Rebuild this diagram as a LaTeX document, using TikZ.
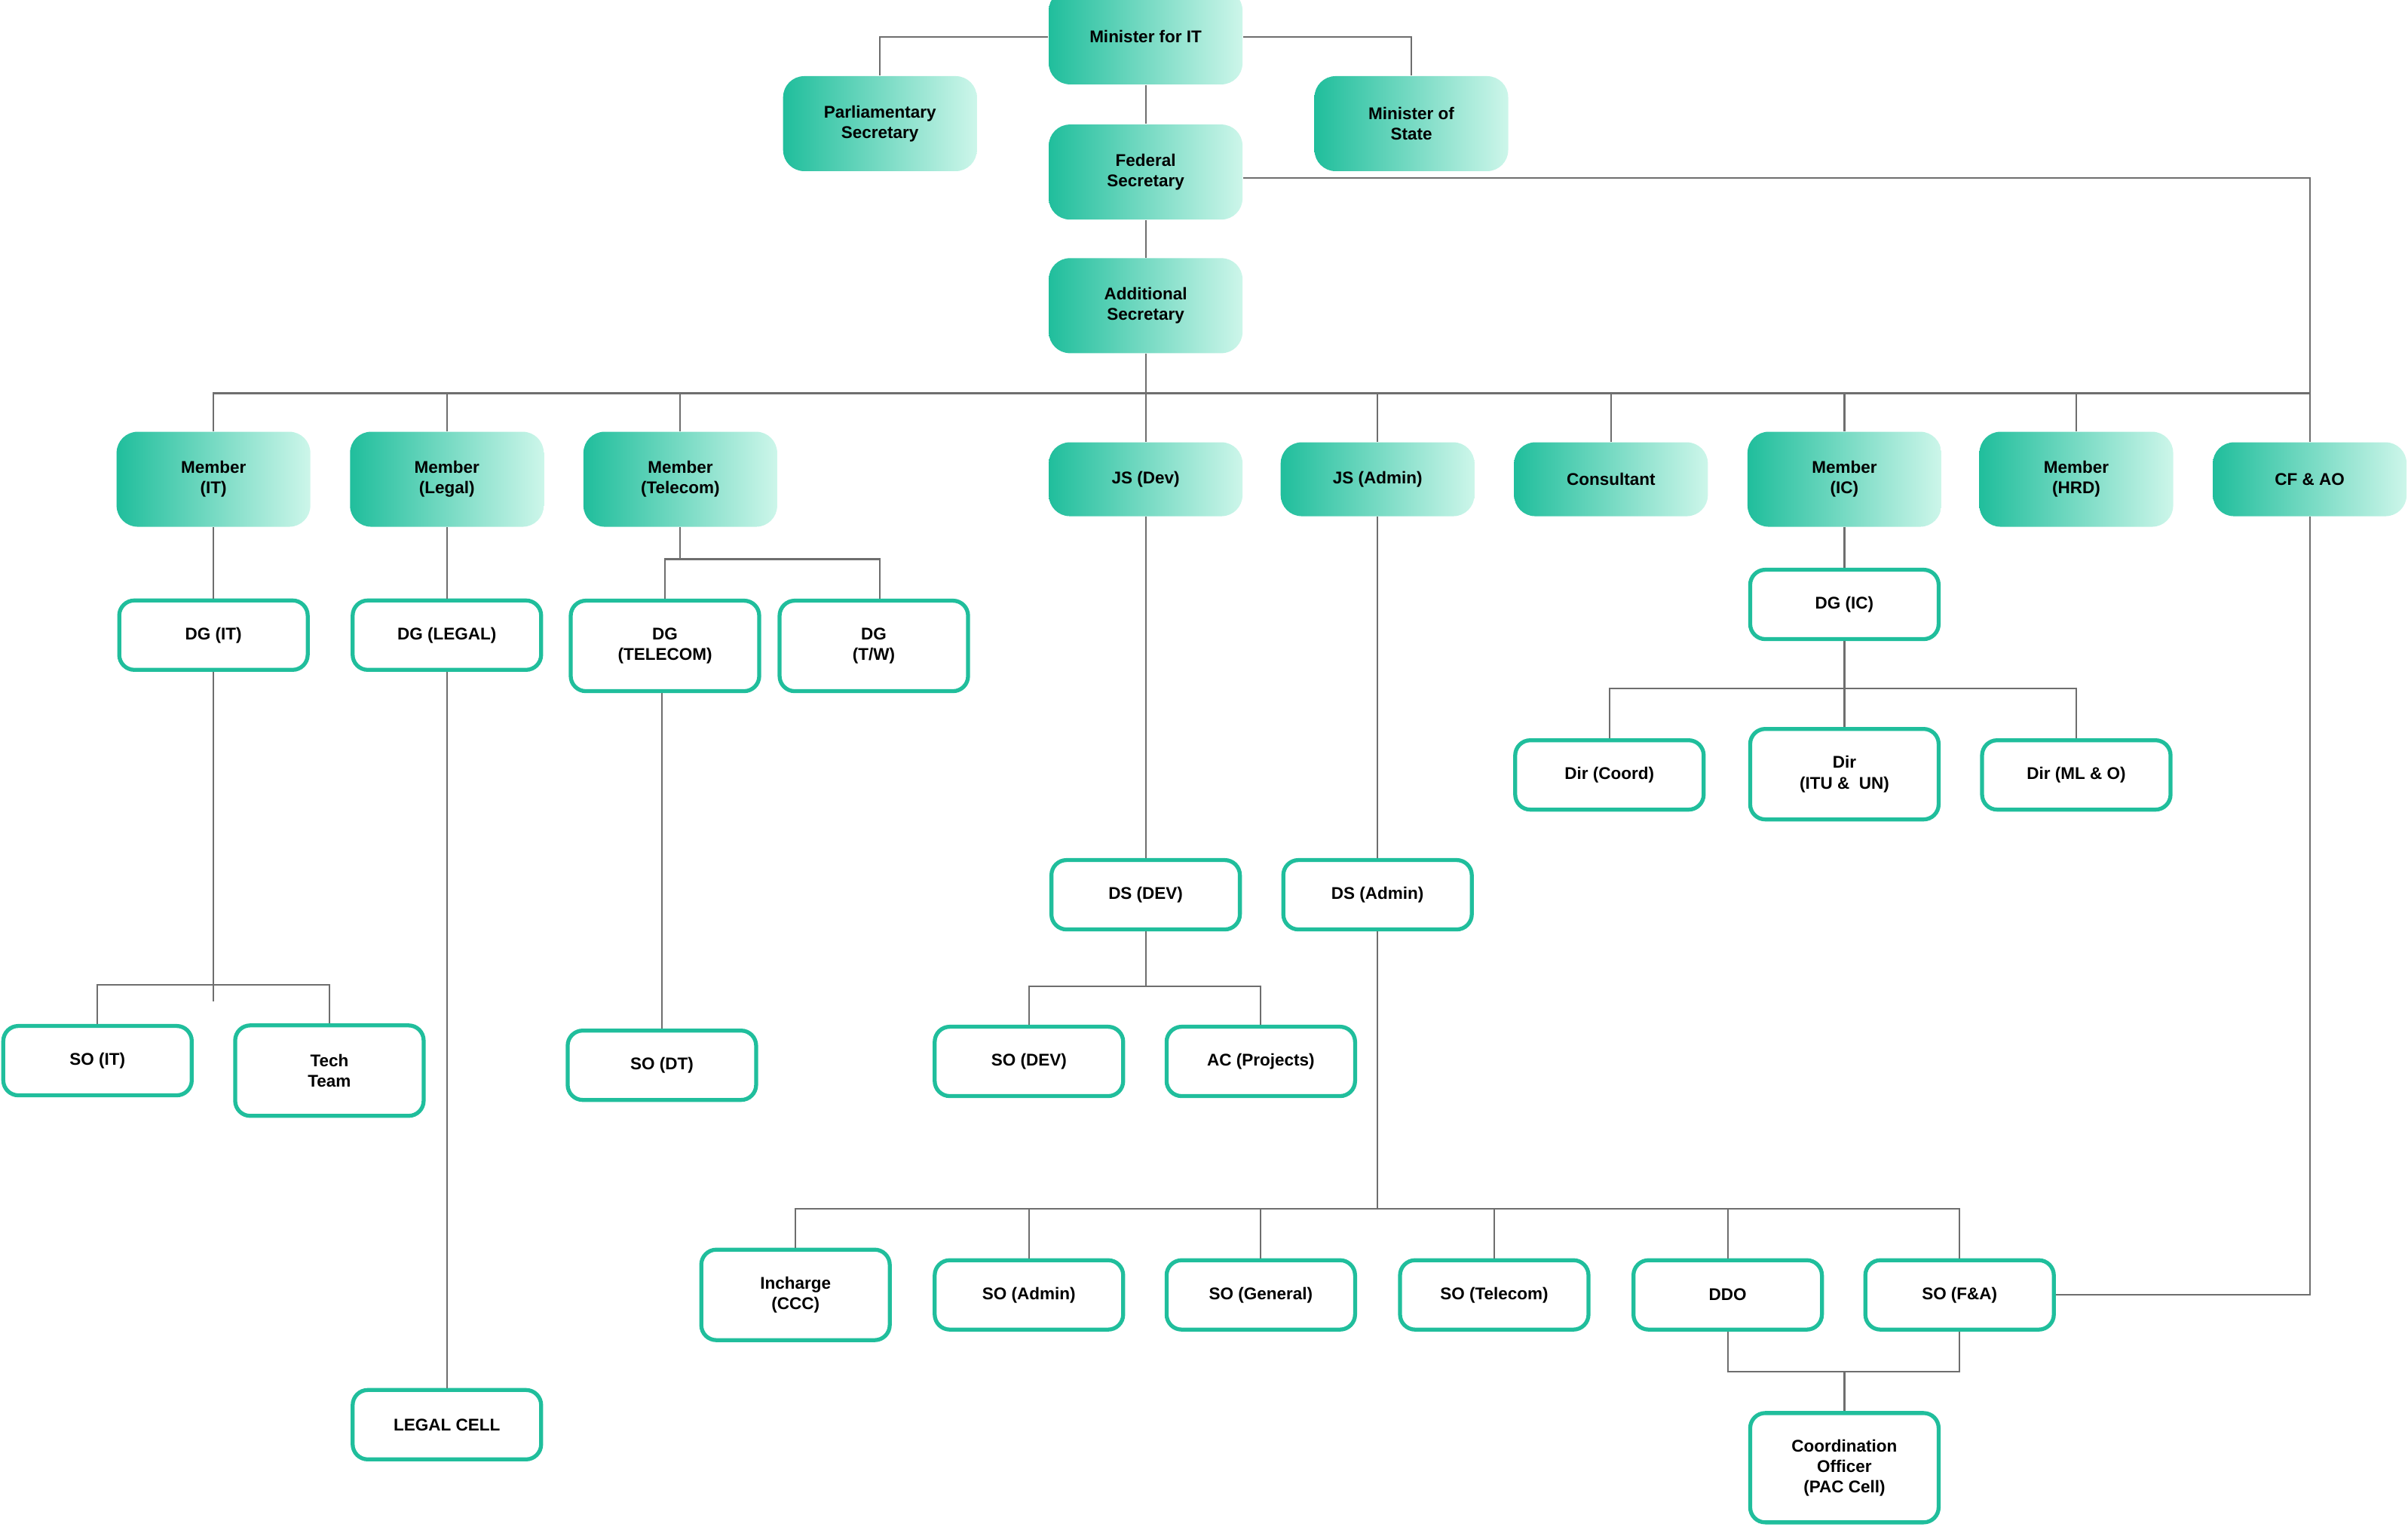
\documentclass[tikz,border=0pt]{standalone}
\usepackage{fontspec}
\setmainfont{Liberation Sans}
\usetikzlibrary{positioning}
\definecolor{tealdark}{HTML}{20BE9C}
\definecolor{teallight}{HTML}{CDF6EA}
\definecolor{linegray}{HTML}{6E6E6E}

\tikzset{
  boss/.style={rectangle,rounded corners=0.28cm,draw=none,left color=tealdark,right color=teallight,
    minimum width=2.57cm,minimum height=1.26cm,align=center,inner sep=1pt,
    font=\fontsize{6.4pt}{7.7pt}\selectfont\bfseries},
  bosslow/.style={boss,minimum height=0.98cm},
  post/.style={rectangle,rounded corners=0.2cm,draw=tealdark,line width=1.5pt,fill=white,
    minimum width=2.5cm,minimum height=0.92cm,align=center,inner sep=1pt,
    font=\fontsize{6.4pt}{7.7pt}\selectfont\bfseries},
  posthigh/.style={post,minimum height=1.2cm},
  link/.style={draw=linegray,line width=0.6pt}
}

\begin{document}
\begin{tikzpicture}[x=0.02037cm,y=-0.02037cm]
\useasboundingbox (0,0) rectangle (1568,994);

\coordinate (bus) at (746,256);
\coordinate (telbus) at (443,364);
\coordinate (icbus) at (1201,448);
\coordinate (itbus) at (139,641);
\coordinate (itend) at (139,652);
\coordinate (devbus) at (746,642);
\coordinate (admbus) at (897,787);
\coordinate (pacbus) at (1201,893);

\node[boss] (min) at (746,24) {Minister for IT};
\node[boss] (parl) at (573,80.5) {Parliamentary\\Secretary};
\node[boss] (mos) at (919,80.5) {Minister of\\State};
\node[boss] (fed) at (746,112) {Federal\\Secretary};
\node[boss] (add) at (746,199) {Additional\\Secretary};

\node[boss] (mit) at (139,312) {Member\\(IT)};
\node[boss] (mlegal) at (291,312) {Member\\(Legal)};
\node[boss] (mtel) at (443,312) {Member\\(Telecom)};
\node[bosslow] (jsdev) at (746,312) {JS (Dev)};
\node[bosslow] (jsadm) at (897,312) {JS (Admin)};
\node[bosslow] (cons) at (1049,312) {Consultant};
\node[boss] (mic) at (1201,312) {Member\\(IC)};
\node[boss] (mhrd) at (1352,312) {Member\\(HRD)};
\node[bosslow] (cfao) at (1504,312) {CF \& AO};

\node[post] (dgit) at (139,413.5) {DG (IT)};
\node[post] (dglegal) at (291,413.5) {DG (LEGAL)};
\node[posthigh] (dgtel) at (433,420.5) {DG\\(TELECOM)};
\node[posthigh] (dgtw) at (569,420.5) {DG\\(T/W)};
\node[post] (dgic) at (1201,393.5) {DG (IC)};
\node[post] (dircoord) at (1048,504.5) {Dir (Coord)};
\node[posthigh] (dirun) at (1201,504) {Dir\\(ITU \&\ \ UN)};
\node[post] (dirml) at (1352,504.5) {Dir (ML \& O)};

\node[post] (dsdev) at (746,582.5) {DS (DEV)};
\node[post] (dsadm) at (897,582.5) {DS (Admin)};
\node[post] (sodev) at (670,691) {SO (DEV)};
\node[post] (acp) at (821,691) {AC (Projects)};

\node[post] (soit) at (63.5,690.5) {SO (IT)};
\node[posthigh] (tech) at (214.5,697) {Tech\\Team};
\node[post] (sodt) at (431,693.5) {SO (DT)};
\node[post] (lcell) at (291,927.5) {LEGAL CELL};

\node[posthigh] (ccc) at (518,843) {Incharge\\(CCC)};
\node[post] (soadm) at (670,843) {SO (Admin)};
\node[post] (sogen) at (821,843) {SO (General)};
\node[post] (sotel) at (973,843) {SO (Telecom)};
\node[post] (ddo) at (1125,843) {DDO};
\node[post] (sofa) at (1276,843) {SO (F\&A)};
\node[post,minimum height=1.45cm] (pac) at (1201,955.5) {Coordination\\Officer\\(PAC Cell)};

\draw[link] (min.west) -| (parl.north);
\draw[link] (min.east) -| (mos.north);
\draw[link] (min.south) -- (fed.north);
\draw[link] (fed.south) -- (add.north);
\draw[link] ([yshift=-0.08cm]fed.east) -| (cfao.north);
\draw[link] (add.south) -- (jsdev.north);
\draw[link] (mit.north) |- (cfao.north |- bus);
\draw[link] (mlegal.north) -- (mlegal.north |- bus);
\draw[link] (mtel.north) -- (mtel.north |- bus);
\draw[link] (jsadm.north) -- (jsadm.north |- bus);
\draw[link] (cons.north) -- (cons.north |- bus);
\draw[link] (mic.north) -- (mic.north |- bus);
\draw[link] (mhrd.north) -- (mhrd.north |- bus);

\draw[link] (mit.south) -- (dgit.north);
\draw[link] (mlegal.south) -- (dglegal.north);
\draw[link] (mtel.south) -- (telbus);
\draw[link] (dgtel.north) |- (telbus) -| ([xshift=0.08cm]dgtw.north);
\draw[link] (mic.south) -- (dgic.north);
\draw[link] (dgic.south) -- (dirun.north);
\draw[link] (dircoord.north) |- (icbus) -| (dirml.north);

\draw[link] (dgit.south) -- (itend);
\draw[link] (soit.north) |- (itbus) -| (tech.north);
\draw[link] (dglegal.south) -- (lcell.north);
\draw[link] (sodt.north) -- (sodt.north |- dgtel.south);

\draw[link] (jsdev.south) -- (dsdev.north);
\draw[link] (jsadm.south) -- (dsadm.north);
\draw[link] (dsdev.south) -- (devbus);
\draw[link] (sodev.north) |- (devbus) -| (acp.north);

\draw[link] (dsadm.south) -- (admbus);
\draw[link] (ccc.north) |- (admbus) -| (sofa.north);
\draw[link] (soadm.north) -- (soadm.north |- admbus);
\draw[link] (sogen.north) -- (sogen.north |- admbus);
\draw[link] (sotel.north) -- (sotel.north |- admbus);
\draw[link] (ddo.north) -- (ddo.north |- admbus);
\draw[link] (ddo.south) |- (pacbus) -| (sofa.south);
\draw[link] (pacbus) -- (pac.north);
\draw[link] (sofa.east) -| (cfao.south);
\end{tikzpicture}
\end{document}
